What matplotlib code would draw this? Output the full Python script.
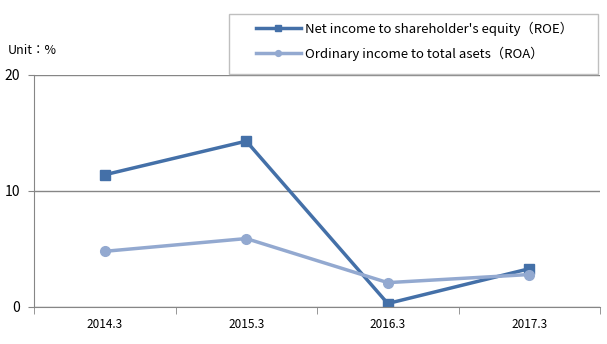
import numpy as np
import matplotlib
matplotlib.use('Agg')
import matplotlib.pyplot as plt
from matplotlib.patches import Rectangle

plt.rcParams['font.family'] = ['Noto Sans CJK JP', 'DejaVu Sans']

years = ['2014.3', '2015.3', '2016.3', '2017.3']
roe = [11.4, 14.3, 0.3, 3.3]
roa = [4.8, 5.9, 2.1, 2.8]
roe_label = "Net income to shareholder's equity（ROE）"
roa_label = 'Ordinary income to total asets（ROA）'

W, H = 607, 344
fig = plt.figure(figsize=(W/100, H/100), dpi=100)
ax = fig.add_axes([34/W, 1-307/H, 566/W, 232/H])

x = np.arange(len(years))
ax.plot(x, roe, color='#4470A8', lw=2.5, marker='s', ms=7, label=roe_label)
ax.plot(x, roa, color='#93A9D0', lw=2.5, marker='o', ms=7, label=roa_label)

ax.set_xlim(-0.5, 3.5)
ax.set_ylim(0, 20)
ax.set_yticks([0, 10, 20])
ax.set_xticks(x)
ax.set_xticklabels(years, fontsize=8.5)
ax.set_xticks(np.arange(-0.5, 4, 1), minor=True)
ax.tick_params(axis='x', which='major', length=0, pad=8)
ax.tick_params(axis='x', which='minor', length=5, color='#868686', direction='out')
ax.tick_params(axis='y', length=4, color='#868686', labelsize=10, pad=6)
ax.grid(axis='y', color='#868686', lw=1)
ax.set_axisbelow(True)
for s in ['top', 'right']:
    ax.spines[s].set_visible(False)
for s in ['left', 'bottom']:
    ax.spines[s].set_color('#868686')

fig.text(8/W, 1-50/H, 'Unit：%', fontsize=9, va='center')

# legend frame drawn separately so its padding can be set freely
fig.patches.append(Rectangle((229/W, 1-74/H), 369/W, 60/H, transform=fig.transFigure,
                             fill=False, edgecolor='#BFBFBF', lw=1))
fig.legend(loc='center left', bbox_to_anchor=(256/W, 1-41/H), fontsize=9.5,
           frameon=False, borderpad=0, borderaxespad=0,
           handlelength=3.4, handletextpad=0.3, markerscale=0.6, labelspacing=0.8)

fig.savefig('out.png', dpi=100)
